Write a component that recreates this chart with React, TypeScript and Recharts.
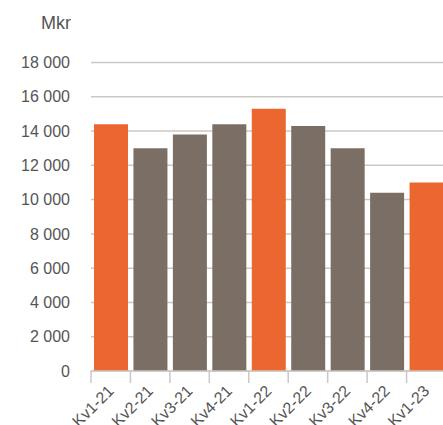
import React from 'react';
import { BarChart, Bar, XAxis, YAxis, CartesianGrid, Cell } from 'recharts';

const categories = ['Kv1-21', 'Kv2-21', 'Kv3-21', 'Kv4-21', 'Kv1-22', 'Kv2-22', 'Kv3-22', 'Kv4-22', 'Kv1-23'];
const values = [14400, 13000, 13800, 14400, 15300, 14300, 13000, 10400, 11000];
const highlighted = [true, false, false, false, true, false, false, false, true];
const yTicks = [0, 2000, 4000, 6000, 8000, 10000, 12000, 14000, 16000, 18000];
const unitLabel = 'Mkr';

const data = categories.map((c, i) => ({ name: c, value: values[i], hl: highlighted[i] }));

const ORANGE = '#EC6630';
const BROWN = '#7A6E65';
const GRID = '#CDC8C2';
const TEXT = '#555555';

const CHART_W = 460;
const CHART_H = 425;
const LEFT = 91;
const RIGHT_MARGIN = 14;
const BAND = (CHART_W - LEFT - RIGHT_MARGIN) / categories.length;

const fmt = (v: number) => (v === 0 ? '0' : v.toLocaleString('en-US').replace(/,/g, ' '));

const XTick = (props: any) => {
  const { x, y, payload } = props;
  const left = x - BAND / 2;
  const tx = x + 4;
  const ty = y + 21;
  return (
    <g>
      <line x1={left} y1={y} x2={left} y2={y + 12} stroke={GRID} strokeWidth={1.5} />
      <text
        x={tx}
        y={ty}
        transform={`rotate(-45, ${tx}, ${ty})`}
        textAnchor="end"
        fill={TEXT}
        fontSize={16}
        fontFamily="Liberation Sans, Arial, sans-serif"
      >
        {payload.value}
      </text>
    </g>
  );
};

export default function App() {
  return (
    <div style={{ position: 'absolute', left: 0, top: 0, width: 443, height: 425, overflow: 'hidden', background: '#fff' }}>
      <div
        style={{
          position: 'absolute',
          left: 0,
          top: 14,
          width: 71,
          textAlign: 'right',
          fontFamily: 'Liberation Sans, Arial, sans-serif',
          fontSize: 18,
          lineHeight: '18px',
          color: TEXT,
        }}
      >
        {unitLabel}
      </div>
      <BarChart
        width={CHART_W}
        height={CHART_H}
        data={data}
        margin={{ top: 62.5, right: RIGHT_MARGIN, left: 0, bottom: 0 }}
        barSize={34}
      >
        <CartesianGrid vertical={false} stroke={GRID} strokeWidth={1.5} />
        <YAxis
          width={LEFT}
          domain={[0, 18000]}
          ticks={yTicks}
          tickFormatter={fmt}
          axisLine={false}
          tickLine={false}
          tickSize={0}
          tickMargin={21}
          tick={{ fill: TEXT, fontSize: 16, fontFamily: 'Liberation Sans, Arial, sans-serif' }}
          interval={0}
        />
        <XAxis
          dataKey="name"
          height={54}
          interval={0}
          tickLine={false}
          tickSize={0}
          tickMargin={0}
          axisLine={{ stroke: GRID, strokeWidth: 1.5 }}
          tick={<XTick />}
        />
        <Bar dataKey="value" isAnimationActive={false}>
          {data.map((d, i) => (
            <Cell key={i} fill={d.hl ? ORANGE : BROWN} />
          ))}
        </Bar>
      </BarChart>
    </div>
  );
}
